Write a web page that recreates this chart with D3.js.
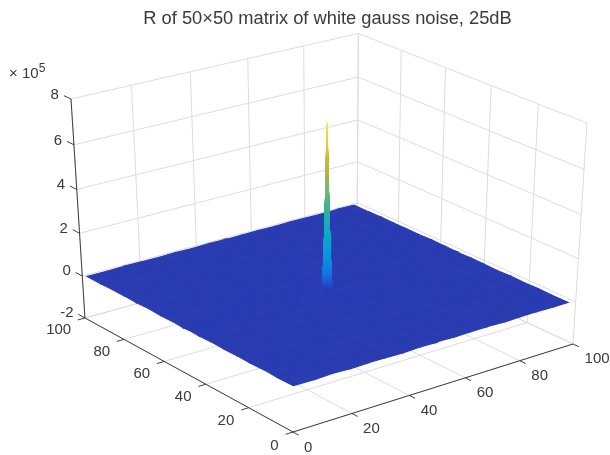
<!DOCTYPE html>
<html>
<head>
<meta charset="utf-8">
<title>R of 50x50 matrix</title>
<script src="https://d3js.org/d3.v7.min.js"></script>
<style>
    html, body { margin: 0; padding: 0; background: #fff; }
    svg { display: block; filter: blur(0.5px); }
    text { font-family: "Liberation Sans", Arial, sans-serif; fill: #3a3a3a; }
</style>
</head>
<body>
<svg id="chart" width="610" height="455"></svg>
<script>
const titleText = "R of 50\u00d750 matrix of white gauss noise, 25dB";
const xTicks = [0, 20, 40, 60, 80, 100];
const yTicks = [0, 20, 40, 60, 80, 100];
const zTicks = [-2, 0, 2, 4, 6, 8];

// matrix sample positions, tighter around the spike
const gridX = [1, 8, 14, 20, 26, 32, 38, 44, 48.8, 50, 51.2, 56, 62, 68, 74, 80, 86, 92, 98];
const gridY = [1, 8, 14, 20, 26, 32, 38, 44, 48.8, 50, 51.2, 56, 62, 68, 74, 80, 86, 92, 99];

// height in units of 1e5, one row per gridY
const heights = [
    [ .01,-.01, .02,-.01, .01, .00,-.02, .01, .00,-.01, .02,-.01, .01, .01,-.02, .00, .01,-.01, .00],
    [-.01, .02,-.02, .01, .00,-.02, .02, .00,-.01, .02,-.00, .01,-.02, .00, .02,-.01, .00, .02,-.01],
    [ .02,-.00, .01, .02,-.02, .01,-.01, .02, .01,-.02, .01, .00,-.01, .02,-.00,-.02, .01,-.00, .01],
    [-.01, .02,-.01,-.00, .02,-.02, .01,-.01, .02, .00,-.01, .02, .01,-.02, .01, .01,-.02, .02,-.01],
    [ .01,-.02, .00, .02,-.01, .02, .00, .02,-.02, .01, .01,-.02, .02, .00,-.01, .02, .00,-.01, .01],
    [-.00, .01,-.02, .01, .02,-.01, .02,-.02, .01, .02,-.02, .03, .00, .02,-.01,-.02, .02, .01,-.02],
    [ .02,-.01, .01,-.02, .00, .02,-.03, .03,-.01, .01, .03,-.02, .02,-.02, .02, .01,-.01, .02, .00],
    [-.01, .02, .00, .01,-.02, .01, .03,-.02, .04,-.03, .02, .04,-.03, .02, .00,-.02, .01,-.01, .01],
    [ .01,-.01, .02,-.01, .02,-.02, .01, .04,-.04, .05,-.02, .02, .03,-.01, .02, .01,-.02, .01,-.01],
    [ .00, .02,-.02, .02,-.00, .02,-.02, .02, .05,7.50, .05,-.02, .01, .02,-.02, .01, .02,-.00, .01],
    [-.02, .00, .01,-.01, .02,-.01, .02,-.03, .02, .05,-.03, .03,-.02, .01, .02,-.01, .00, .02,-.01],
    [ .01,-.01, .01, .02,-.02, .02,-.01, .03,-.02, .02, .04,-.03, .02,-.01, .01, .02,-.02, .00, .01],
    [-.01, .02,-.02, .00, .01,-.01, .02,-.02, .02,-.01, .02, .02,-.01, .02,-.02, .00, .01,-.01, .02],
    [ .02,-.00, .01,-.02, .02, .00,-.01, .02,-.01, .02,-.01, .01, .02,-.01, .01, .02,-.01, .02,-.00],
    [-.01, .01, .00, .02,-.01, .02,-.00, .01, .02,-.02, .00, .02,-.02, .01, .00,-.02, .02,-.01, .01],
    [ .01,-.02, .02,-.01, .00,-.02, .02,-.01, .00, .02,-.01, .01, .00,-.02, .02, .01,-.01, .02,-.00],
    [ .01, .00,-.01, .01,-.02, .01, .00, .02,-.02, .01, .02,-.02, .01, .01,-.01, .02, .00,-.02, .01],
    [-.01, .01, .01,-.02, .02,-.00, .01,-.01, .01,-.01, .00, .02,-.01, .02, .00,-.01, .02, .01,-.01],
    [ .00,-.01, .01, .00,-.01, .01,-.01, .01,-.00, .01,-.01, .00, .01,-.01, .01, .00,-.01, .01, .00]
];

// colour along the height
const colorStops = ["#2d34aa", "#1a70e4", "#0c94dc", "#08a8d0", "#18aeb4", "#38b498", "#70bc70", "#a8b84c", "#d0bc40", "#ecd03c", "#f6e860"];

const svg = d3.select("#chart");

const xScale = d3.scaleLinear().domain([0, 100]).range([0, 1]);
const yScale = d3.scaleLinear().domain([0, 100]).range([0, 1]);
const zScale = d3.scaleLinear().domain([-2, 8]).range([0, 1]);
const colorScale = d3.scaleLinear()
    .domain(d3.range(colorStops.length).map(i => -0.1 + 7.6 * i / (colorStops.length - 1)))
    .range(colorStops)
    .interpolate(d3.interpolateRgb);

// perspective camera, fitted on the corners of the box
function project(u, v, w) {
    const d = 1 + 0.0672 * u + 0.0828 * v - 0.0582 * w;
    return [
        (293 + 318.5 * u - 201 * v - 19.25 * w) / d,
        (432 - 64.9 * u - 87.7 * v - 242.9 * w) / d
    ];
}

const line = d3.line();
const grid = svg.append("g").attr("fill", "none").attr("stroke", "#dcdcdc").attr("stroke-width", 1);

function seg(g, a, b) {
    g.append("path").attr("d", line([project(...a), project(...b)]));
}

xTicks.forEach(t => {
    const u = xScale(t);
    seg(grid, [u, 0, 0], [u, 1, 0]);
    seg(grid, [u, 1, 0], [u, 1, 1]);
});
yTicks.forEach(t => {
    const v = yScale(t);
    seg(grid, [0, v, 0], [1, v, 0]);
    seg(grid, [1, v, 0], [1, v, 1]);
});
zTicks.forEach(t => {
    const w = zScale(t);
    seg(grid, [0, 1, w], [1, 1, w]);
    seg(grid, [1, 1, w], [1, 0, w]);
});

const axes = svg.append("g").attr("fill", "none").attr("stroke", "#2a2a2a").attr("stroke-width", 0.9);
seg(axes, [0, 0, 0], [1, 0, 0]);
seg(axes, [0, 0, 0], [0, 1, 0]);
seg(axes, [0, 1, 0], [0, 1, 1]);
xTicks.forEach(t => seg(axes, [xScale(t), 0, 0], [xScale(t), -0.025, 0]));
yTicks.forEach(t => seg(axes, [0, yScale(t), 0], [-0.025, yScale(t), 0]));
zTicks.forEach(t => seg(axes, [0, 1, zScale(t)], [0, 1.035, zScale(t)]));

// tick labels
const labels = svg.append("g").attr("font-size", 15);
xTicks.forEach(t => {
    const p = project(xScale(t), -0.075, 0);
    labels.append("text").attr("x", p[0] - 6).attr("y", p[1] + 10.5).attr("text-anchor", "start").text(t);
});
yTicks.forEach(t => {
    const p = project(-0.075, yScale(t), 0);
    labels.append("text").attr("x", p[0] + 8).attr("y", p[1] + 10.5).attr("text-anchor", "end").text(t);
});
zTicks.forEach(t => {
    const p = project(0, 1.07, zScale(t));
    labels.append("text").attr("x", p[0] + 2).attr("y", p[1] + 6.5).attr("text-anchor", "end").text(t);
});

svg.append("text").attr("x", 327.5).attr("y", 24).attr("text-anchor", "middle").attr("font-size", 18.3).text(titleText);

const exponent = svg.append("text").attr("x", 9).attr("y", 78).attr("font-size", 15);
exponent.append("tspan").text("\u00d7 10");
exponent.append("tspan").attr("dy", -6).attr("font-size", 12).text("5");

// surface cells, far corner first, steep cells split so the colour follows the height
const cells = [];
for (let j = 0; j < gridY.length - 1; j++) {
    for (let i = 0; i < gridX.length - 1; i++) {
        const h00 = heights[j][i], h10 = heights[j][i + 1], h01 = heights[j + 1][i], h11 = heights[j + 1][i + 1];
        const steep = d3.max([h00, h10, h01, h11]) > 1;
        const n = steep ? 60 : 1;
        for (let b = 0; b < n; b++) {
            for (let a = 0; a < n; a++) {
                const at = (s, r) => {
                    const fx = (a + s) / n, fy = (b + r) / n;
                    return {
                        x: gridX[i] + (gridX[i + 1] - gridX[i]) * fx,
                        y: gridY[j] + (gridY[j + 1] - gridY[j]) * fy,
                        h: h00 * (1 - fx) * (1 - fy) + h10 * fx * (1 - fy) + h01 * (1 - fx) * fy + h11 * fx * fy
                    };
                };
                const corners = [at(0, 0), at(1, 0), at(1, 1), at(0, 1)];
                cells.push({
                    corners: corners,
                    steep: steep,
                    depth: d3.sum(corners, c => c.x + c.y) / 4,
                    mean: d3.mean(corners, c => c.h)
                });
            }
        }
    }
}
cells.sort((p, q) => d3.descending(p.depth, q.depth));

svg.append("g").selectAll("path")
    .data(cells)
    .enter()
    .append("path")
    .attr("d", d => line(d.corners.map(c => project(xScale(c.x), yScale(c.y), zScale(c.h)))) + "Z")
    .attr("fill", d => colorScale(d.mean))
    .attr("stroke", d => colorScale(d.mean))
    .attr("stroke-width", d => d.steep ? 0.4 : 1.2);
</script>
</body>
</html>
